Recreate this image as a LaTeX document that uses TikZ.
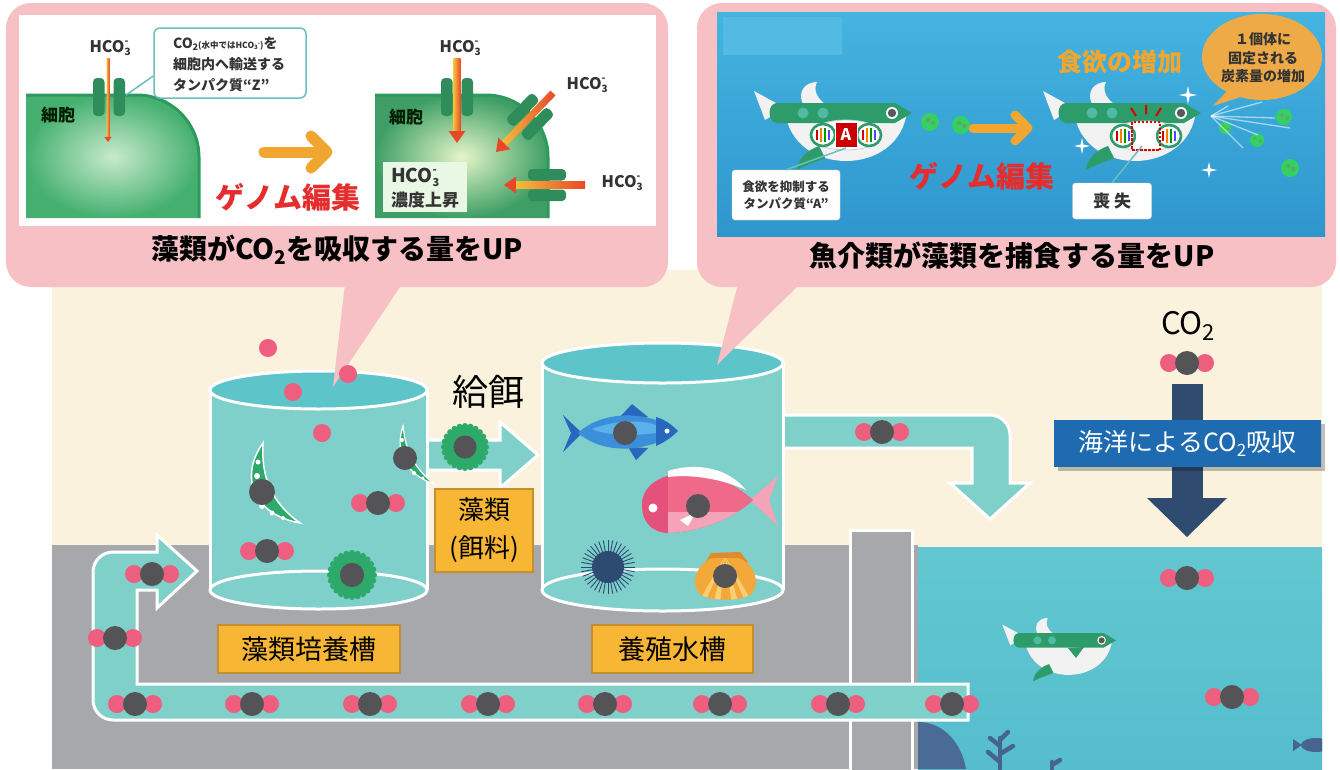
\documentclass[tikz,border=0pt]{standalone}
\usepackage{fontspec}
\newfontfamily\jp{Noto Sans CJK JP}
\definecolor{pinkbox}{HTML}{F6C0C5}
\definecolor{cream}{HTML}{FAF2DD}
\definecolor{ground}{HTML}{A7A8AB}
\definecolor{ocean}{HTML}{62C7D0}
\definecolor{oceanlo}{HTML}{55BDCD}
\definecolor{tankbody}{HTML}{7FCFCA}
\definecolor{tanktop}{HTML}{5DC5C9}
\definecolor{pipe}{HTML}{80D0CA}
\definecolor{opink}{HTML}{EE5E7E}
\definecolor{cdark}{HTML}{545457}
\definecolor{lblfill}{HTML}{F7B633}
\definecolor{lbldraw}{HTML}{C48F2E}
\definecolor{navy}{HTML}{2F4B70}
\definecolor{bluelbl}{HTML}{1F6BB1}
\definecolor{algae}{HTML}{2DAA6A}
\definecolor{cellout}{HTML}{45B070}
\definecolor{cellin}{HTML}{C8EACB}
\definecolor{cellline}{HTML}{2C9A5C}
\definecolor{chan}{HTML}{2F8C5B}
\definecolor{arrY}{HTML}{F4C03A}
\definecolor{arrR}{HTML}{E8482A}
\definecolor{orng}{HTML}{F0A630}
\definecolor{gred}{HTML}{E52D2D}
\definecolor{callout}{HTML}{6CBEBE}
\definecolor{panelT}{HTML}{44B4E1}
\definecolor{panelB}{HTML}{2F96CD}
\definecolor{fishgreen}{HTML}{2E9C6A}
\definecolor{fishdot}{HTML}{4FBBA5}
\definecolor{fishwhite}{HTML}{F2F2F2}
\definecolor{bubble}{HTML}{EFAA48}
\definecolor{tunaM}{HTML}{3B8FDA}
\definecolor{tunaD}{HTML}{2767BD}
\definecolor{tunaL}{HTML}{5BB2EA}
\definecolor{breamM}{HTML}{EF6A8A}
\definecolor{breamD}{HTML}{E4517A}
\definecolor{breamL}{HTML}{F4A3B8}
\definecolor{urchin}{HTML}{2D4A72}
\definecolor{scallop}{HTML}{F2A93A}
\definecolor{scallopL}{HTML}{F8CF72}
\definecolor{scallopD}{HTML}{E08A2C}
\definecolor{rock}{HTML}{4B6B97}
\definecolor{weed}{HTML}{46648F}
\definecolor{txt}{HTML}{333333}

% chemical notation helpers
\newcommand\subtwo[1]{\raisebox{-0.35ex}{\fontsize{#1}{#1}\selectfont 2}}
\newcommand\hcoion[1]{HCO\rlap{\raisebox{-0.4ex}{\fontsize{#1}{#1}\selectfont 3}}\raisebox{0.85ex}{\fontsize{#1}{#1}\selectfont -}}

% arrow with a yellow-to-red gradient: x, y, angle, length, half width
\newcommand\gradarrow[5]{%
  \begin{scope}[shift={(#1,#2)},rotate=#3]
    \shade[left color=arrY,right color=arrR] (0,-#5) rectangle (#4-3*#5,#5);
    \fill[arrR] (#4-3.4*#5,-2.4*#5) -- (#4,0) -- (#4-3.4*#5,2.4*#5) -- cycle;
  \end{scope}}
% transport protein: pair of bars, x, y, angle
\newcommand\channel[3]{%
  \begin{scope}[shift={(#1,#2)},rotate=#3]
    \fill[chan,rounded corners=4pt] (-19,4.5) rectangle (19,16);
    \fill[chan,rounded corners=4pt] (-19,-16) rectangle (19,-4.5);
  \end{scope}}
% four-point sparkle
\newcommand\sparkle[3]{%
  \fill[white,shift={(#1,#2)},scale=#3] (0,-9) -- (1.6,-1.6) -- (9,0) -- (1.6,1.6) -- (0,9) -- (-1.6,1.6) -- (-9,0) -- (-1.6,-1.6) -- cycle;}
% green fish body, origin at the tail top, scale
\newcommand\fishbody[3]{%
  \begin{scope}[shift={(#1,#2)},scale=#3]
    \fill[fishwhite] (-1,9) -- (30,26) -- (10,38) -- cycle;
    \fill[fishwhite] (48,22) .. controls (42,10) and (50,0) .. (62,0) .. controls (58,8) and (62,16) .. (70,22) -- cycle;
    \fill[fishwhite] (30,28) .. controls (36,96) and (146,96) .. (152,28) -- cycle;
    \fill[fishgreen] (22,21) -- (140,21) -- (157,31) -- (140,41) -- (22,41) .. controls (12,41) and (12,21) .. (22,21) -- cycle;
    \fill[fishdot] (48,31) circle (5.5pt) (68,31) circle (5.5pt);
    \fill[white] (137,31) circle (6pt);
    \fill[black!65] (137,31) circle (4.2pt);
    \fill[fishgreen] (64,64) .. controls (52,68) and (42,78) .. (42,88) .. controls (52,82) and (62,80) .. (70,76) -- cycle;
  \end{scope}}
% pair of DNA rings centred at x, y
\newcommand\dnapair[2]{%
  \begin{scope}[shift={(#1,#2)}]
    \filldraw[fill=white,draw=black!20,line width=0.8pt] (0,0) ellipse [x radius=36pt,y radius=15pt];
    \foreach \dx in {-23,23}{
      \begin{scope}[shift={(\dx,0)}]
        \draw[fishgreen,line width=2.6pt] (0,0) ellipse [x radius=12pt,y radius=11pt];
        \draw[red!80!black,line width=1.2pt] (-6,-5) -- (-6,5);
        \draw[orange,line width=1.2pt] (-2,-7) -- (-2,7);
        \draw[green!60!black,line width=1.2pt] (2,-7) -- (2,7);
        \draw[blue!70,line width=1.2pt] (6,-5) -- (6,5);
      \end{scope}}
  \end{scope}}
% spiky green alga with carbon core
\newcommand\alga[3]{%
  \begin{scope}[shift={(#1,#2)}]
    \foreach \a in {0,15,...,345} \fill[algae] (\a:#3) circle (3pt);
    \fill[algae] (0,0) circle (#3 pt);
    \fill[cdark] (0,0) circle (0.55*#3 pt);
  \end{scope}}

\tikzset{
  co2/.pic={\fill[opink] (-18,0) circle (9pt) (18,0) circle (9pt); \fill[cdark] (0,0) circle (12pt);},
  lbl/.style={fill=lblfill,draw=lbldraw,line width=2pt,text=black,inner sep=0pt,
              font={\jp\fontsize{27}{33}\selectfont}},
  ttl/.style={text=black,inner sep=0pt,font={\jp\bfseries\fontsize{28}{30}\selectfont}},
  hco/.style={text=txt,inner sep=0pt,font={\jp\bfseries\fontsize{16}{18}\selectfont}},
  cellname/.style={text=black!70!green!40!black,inner sep=0pt,font={\jp\bfseries\fontsize{17}{18}\selectfont}},
  genome/.style={text=gred,inner sep=0pt,font={\jp\bfseries\fontsize{29}{30}\selectfont}},
  tag/.style={fill=white,draw=black!15,rounded corners=3pt,inner sep=0pt,text=txt,
              font={\jp\bfseries\fontsize{12.5}{17}\selectfont}},
  pipeshape/.style={fill=pipe,draw=white,line width=3pt},
  tankside/.style={white,line width=3pt},
}

\begin{document}
\begin{tikzpicture}[x=1pt,y=-1pt]
\useasboundingbox (0,0) rectangle (1340,769);
\fill[white] (0,0) rectangle (1340,769);

% ---------- scene background ----------
\fill[cream] (52,270) rectangle (1322,547);
\fill[ground] (52,545) rectangle (918,769);
\shade[top color=ocean,bottom color=oceanlo] (918,547) rectangle (1322,769);
\filldraw[fill=ground,draw=white,line width=3pt] (850,530) rectangle (912,775);
\fill[rock] (918,769) -- (918,722) .. controls (945,722) and (962,745) .. (966,769) -- cycle;

% seaweed and a small fish in the sea
\begin{scope}[weed,line width=4.5pt,line cap=round]
  \draw (1000,769) -- (1000,738);
  \draw (1000,762) -- (988,752); \draw (1000,754) -- (1013,746);
  \draw (1000,746) -- (990,738); \draw (1000,740) -- (1008,732);
  \draw (1052,769) -- (1052,762); \draw (1052,765) -- (1060,760);
\end{scope}
\begin{scope}
  \clip (918,547) rectangle (1322,769);
  \fill[weed] (1293,739) -- (1302,745) -- (1293,751) -- cycle;
  \fill[weed] (1316,745) ellipse [x radius=15pt,y radius=7pt];
\end{scope}

% ---------- left call-out: algae take up more CO2 ----------
\fill[pinkbox,rounded corners=25pt] (6,3) rectangle (668,287);
\fill[white] (19,15) rectangle (656,226);

% cells
\shade[inner color=cellin,outer color=cellout] (26,218) -- (26,95) -- (137,95) .. controls (171,95) and (199,123) .. (199,157) -- (199,218) -- cycle;
\draw[cellline,line width=3pt] (26,95) -- (137,95) .. controls (171,95) and (199,123) .. (199,157) -- (199,218);
\shade[inner color=cellin!80!yellow!60,outer color=cellout!90!black] (375,218) -- (375,95) -- (486,95) .. controls (520,95) and (548,123) .. (548,157) -- (548,218) -- cycle;
\draw[cellline,line width=3pt] (375,95) -- (486,95) .. controls (520,95) and (548,123) .. (548,157) -- (548,218);

\node[cellname] (cellL) at (58,115) {細胞};
\node[cellname] (cellR) at (406,117) {細胞};

\channel{109}{97}{90}
\gradarrow{108}{58}{-90}{84}{1.5}
\node[hco] (hcoL) at (109,48) {\hcoion{10}};

% callout for protein Z
\node[draw=callout,line width=1.5pt,fill=white,rounded corners=6pt,minimum width=152pt,minimum height=70pt,inner sep=0pt] (zbox) at (230,63) {};
\node[text=txt,align=left,inner sep=0pt,font={\jp\bfseries\fontsize{14}{21}\selectfont}] (ztext) at (229,64)
  {CO\subtwo{9}{\fontsize{8.5}{9}\selectfont (水中ではHCO\raisebox{-0.3ex}{\fontsize{6}{6}\selectfont 3}\raisebox{0.6ex}{\fontsize{6}{6}\selectfont -})}を\\細胞内へ輸送する\\タンパク質“Z”};
\draw[callout,line width=1.5pt] (zbox.west |- 0,76) -- (126,95);

% orange arrow and genome editing
\draw[orng,line width=11pt,line cap=round] (264,152) -- (322,152);
\draw[orng,line width=11pt,line cap=round,line join=round] (311,136) -- (327,152) -- (311,168);
\node[genome] (geL) at (288,197) {ゲノム編集};

% right cell with many channels
\channel{457}{97}{90}
\channel{530}{117}{46}
\channel{547}{185}{0}
\gradarrow{457}{58}{-90}{85}{3.5}
\gradarrow{553}{93}{-134}{82}{3.5}
\gradarrow{585}{185}{180}{81}{3.5}
\node[hco] (hcoR1) at (459,48) {\hcoion{10}};
\node[hco] (hcoR2) at (586,85) {\hcoion{10}};
\node[hco] (hcoR3) at (621,183) {\hcoion{10}};
\node[fill=yellow!12!green!10,inner sep=0pt,minimum width=84pt,minimum height=50pt] (conc) at (425,187) {};
\node[text=txt,align=left,inner sep=0pt,font={\jp\bfseries\fontsize{17}{24}\selectfont}] (conctext) at (425,188)
  {\fontsize{19}{24}\selectfont\hcoion{11}\\濃度上昇};

\node[ttl] (ttlL) at (337,250) {藻類がCO\subtwo{19}を吸収する量をUP};

% ---------- right call-out: fish eat more algae ----------
\fill[pinkbox,rounded corners=25pt] (697,3) rectangle (1336,287);
\shade[top color=panelT,bottom color=panelB] (717,12) rectangle (1325,236);
\fill[panelT!92!white] (723,17) rectangle (842,55);

% fish before editing
\fishbody{755}{82}{1}
\dnapair{846}{135}
\node[fill=red!80!black,draw=white,line width=1pt,text=white,minimum width=22pt,minimum height=25pt,inner sep=0pt,font={\jp\bfseries\fontsize{16}{16}\selectfont}] (protA) at (846,135) {A};
\node[tag,minimum width=108pt,minimum height=50pt,align=center] (tagA) at (786,195) {食欲を抑制する\\タンパク質“A”};
\draw[callout,line width=1.5pt] (protA.south) -- (tagA.north);

% small algae in the water
\foreach \x/\y/\r in {930/122/9,961/125/9,1284/117/8,1225/128/6,1257/140/7,1290/168/9}{
  \fill[green!55!teal!80] (\x,\y) circle (\r pt);
  \fill[green!40!black!60] (\x-2,\y-2) circle (0.25*\r pt) (\x+3,\y+1) circle (0.25*\r pt);}

\draw[orng,line width=9pt,line cap=round] (973,128) -- (1022,128);
\draw[orng,line width=9pt,line cap=round,line join=round] (1015,115) -- (1028,128) -- (1015,141);
\node[genome] (geR) at (982,176) {ゲノム編集};

% fish after editing, with a burst of light from its mouth
\foreach \ex/\ey in {1228/106,1262/102,1275/118,1258/135,1243/148,1290/128}
  \draw[white,opacity=0.55,line width=1.3pt] (1211,116) -- (\ex,\ey);
\fishbody{1044}{82}{1}
\dnapair{1146}{136}
\fill[white,opacity=0.9] (1146,136) circle (10pt);
\draw[red!85!black,line width=1.3pt,dash pattern=on 2.5pt off 1.5pt] (1132,122) rectangle (1160,150);
\draw[red!85!black,line width=2pt] (1136,116) -- (1131,108) (1146,114) -- (1146,105) (1156,116) -- (1161,108);
\sparkle{1188}{95}{1}
\sparkle{1082}{146}{0.9}
\sparkle{1209}{170}{0.9}
\node[tag,minimum width=79pt,minimum height=36pt,font={\jp\bfseries\fontsize{17}{18}\selectfont}] (tagLoss) at (1112,201) {喪\hspace{4pt}失};
\draw[callout,line width=1.5pt] (1142,146) -- (tagLoss.north);

\node[text=orng,inner sep=0pt,font={\jp\bfseries\fontsize{25}{26}\selectfont}] (appetite) at (1120,62) {食欲の増加};
\fill[bubble] (1262,57) ellipse [x radius=60pt,y radius=43pt];
\fill[bubble] (1230,88) -- (1213,106) -- (1250,94) -- cycle;
\node[text=black!80,align=center,inner sep=0pt,font={\jp\bfseries\fontsize{14}{18.5}\selectfont}] (bubbletext) at (1263,58) {１個体に\\固定される\\炭素量の増加};

\node[ttl] (ttlR) at (1012,256) {魚介類が藻類を捕食する量をUP};

% ---------- pipes ----------
\filldraw[pipeshape] (775,415) -- (990,415) .. controls (1001,415) and (1010,424) .. (1010,435) -- (1010,483) -- (1030,483) -- (990,519) -- (950,483) -- (972,483) -- (972,448) -- (775,448) -- cycle;
\filldraw[pipeshape] (420,440) -- (500,440) -- (500,422) -- (538,455) -- (500,488) -- (500,470) -- (420,470) -- cycle;
\filldraw[pipeshape] (968,684) -- (137,684) -- (137,590) -- (157,590) -- (157,608) -- (197,571) -- (157,535) -- (157,552) -- (113,552) .. controls (102,552) and (93,561) .. (93,572) -- (93,700) .. controls (93,711) and (102,720) .. (113,720) -- (968,720) -- cycle;

% ---------- algae culture tank ----------
\fill[tankbody] (210,390) rectangle (427,590);
\fill[tankbody] (318.5,590) ellipse [x radius=108.5pt,y radius=19pt];
\draw[tankside] (210,390) -- (210,590) (427,390) -- (427,590);
\draw[tankside] (318.5,590) ellipse [x radius=108.5pt,y radius=19pt];
\fill[tanktop,draw=white,line width=3pt] (318.5,390) ellipse [x radius=108.5pt,y radius=19pt];

% diatoms
\filldraw[fill=algae,draw=white,line width=1.5pt] (263,443) .. controls (238,478) and (255,515) .. (300,523) .. controls (272,503) and (261,478) .. (263,443) -- cycle;
\fill[white] (258,462) circle (2.5pt) (257,476) circle (3pt) (262,506) circle (3pt) (272,513) circle (2.5pt) (283,518) circle (2pt);
\fill[cdark] (262,492) circle (13pt);
\filldraw[fill=algae,draw=white,line width=1.2pt] (403,426) .. controls (393,455) and (410,476) .. (434,484) .. controls (417,470) and (406,455) .. (403,426) -- cycle;
\fill[white] (402,440) circle (2pt) (414,473) circle (2pt) (423,478) circle (1.6pt);
\fill[cdark] (405,458) circle (12pt);
\alga{352}{575}{22}
\pic at (378,503) {co2};
\pic at (267,551) {co2};

% ---------- aquaculture tank ----------
\fill[tankbody] (542,363) rectangle (783,590);
\fill[tankbody] (662.5,590) ellipse [x radius=120.5pt,y radius=21pt];
\draw[tankside] (542,363) -- (542,590) (783,363) -- (783,590);
\draw[tankside] (662.5,590) ellipse [x radius=120.5pt,y radius=21pt];

% tuna
\fill[tunaD] (563,415) -- (582,433) -- (563,452) -- (571,433) -- cycle;
\fill[tunaD] (618,419) -- (632,404) -- (648,417) -- cycle;
\fill[tunaD] (628,447) -- (636,460) -- (648,448) -- cycle;
\fill[tunaM] (578,433) .. controls (600,412) and (645,408) .. (678,431) .. controls (650,452) and (605,456) .. (578,433) -- cycle;
\fill[tunaL] (592,429) .. controls (612,421) and (640,419) .. (656,425) -- (656,433) .. controls (632,436) and (608,436) .. (592,429) -- cycle;
\fill[tunaD] (656,417) .. controls (666,420) and (672,425) .. (678,431) .. controls (672,437) and (665,442) .. (656,446) -- cycle;
\fill[white] (667,431) circle (2.5pt);
\fill[cdark] (625,433) circle (12pt);

% sea bream
\fill[breamL] (750,500) -- (778,476) -- (769,500) -- (778,526) -- cycle;
\begin{scope}
  \clip (642,505) .. controls (642,482) and (668,470) .. (700,474) .. controls (725,478) and (742,490) .. (753,500) .. controls (735,518) and (700,532) .. (668,533) .. controls (650,532) and (642,520) .. (642,505) -- cycle;
  \fill[breamM] (630,460) rectangle (760,540);
  \fill[breamL] (668,512) rectangle (760,540);
  \fill[breamD] (630,460) rectangle (668,540);
\end{scope}
\fill[white] (668,471) .. controls (700,461) and (730,470) .. (746,490) .. controls (722,479) and (692,474) .. (668,477) -- cycle;
\fill[white] (653,508) circle (4.5pt);
\fill[white] (680,520) -- (696,512) -- (688,526) -- cycle;
\fill[cdark] (698,506) circle (12pt);

% sea urchin
\foreach \a in {0,10,...,350} \draw[urchin,line width=0.9pt] (608,567) -- ++(\a:27);
\fill[urchin] (608,567) circle (16pt);

% scallop: hinge ears on top, ribbed rounded shell below
\fill[scallopD] (711,553) -- (740,552) -- (748,562) -- (705,563) -- cycle;
\begin{scope}
  \clip (713,558) .. controls (696,562) and (688,588) .. (703,596) .. controls (714,601) and (737,601) .. (748,596) .. controls (763,588) and (755,562) .. (738,558) -- cycle;
  \fill[scallop] (680,550) rectangle (770,605);
  \foreach \rx in {700,716,735,750}
    \fill[scallopL] (\rx-3,605) -- (725,556) -- (\rx+4,605) -- cycle;
\end{scope}
\fill[cdark] (725,576) circle (12pt);

\fill[tanktop,draw=white,line width=3pt] (662.5,363) ellipse [x radius=120.5pt,y radius=20pt];

% call-out pointers
\fill[pinkbox] (345,284) -- (402,284) -- (333,387) -- cycle;
\fill[pinkbox] (738,284) -- (800,284) -- (717,365) -- cycle;

% loose oxygen atoms
\fill[opink] (268,348) circle (9pt) (348,374) circle (9pt) (293,392) circle (9pt) (322,433) circle (9pt);

% feed alga on the arrow
\alga{465}{447}{21}

% CO2 molecules
\pic at (882,432) {co2};
\pic at (152,574) {co2};
\pic at (115,638) {co2};
\foreach \x in {135,252,370,488,605,720,838,952} \pic at (\x,704) {co2};
\pic at (1187,363) {co2};
\pic at (1187,578) {co2};
\pic at (1232,697) {co2};

% fish in the sea
\fishbody{1003}{618}{0.72}
\fill[fishgreen] (1068,648) -- (1084,647) -- (1076,658) -- cycle;

% labels
\node[lbl,minimum width=182pt,minimum height=48pt] (tank1) at (309,649) {藻類培養槽};
\node[lbl,minimum width=161pt,minimum height=48pt] (tank2) at (672.5,649) {養殖水槽};
\node[lbl,minimum width=98pt,minimum height=83pt,align=center,font={\jp\fontsize{26}{38}\selectfont}] (feedlbl) at (484,530) {藻類\\(餌料)};
\node[inner sep=0pt,text=black,font={\jp\fontsize{36}{36}\selectfont}] (feed) at (488,392) {給餌};

% ocean uptake of CO2
\node[inner sep=0pt,text=black,font={\jp\fontsize{31}{32}\selectfont}] (co2t) at (1188,326) {CO\subtwo{22}};
\fill[navy] (1172,384) rectangle (1203,500);
\fill[navy] (1147,498) -- (1227,498) -- (1187,537) -- cycle;
\fill[black,opacity=0.25] (1058,424) rectangle (1325,471);
\node[fill=bluelbl,text=white,minimum width=267pt,minimum height=47pt,inner sep=0pt,font={\jp\fontsize{25}{26}\selectfont}] (uptake) at (1187.5,443.5) {海洋によるCO\subtwo{17}吸収};
\end{tikzpicture}
\end{document}
